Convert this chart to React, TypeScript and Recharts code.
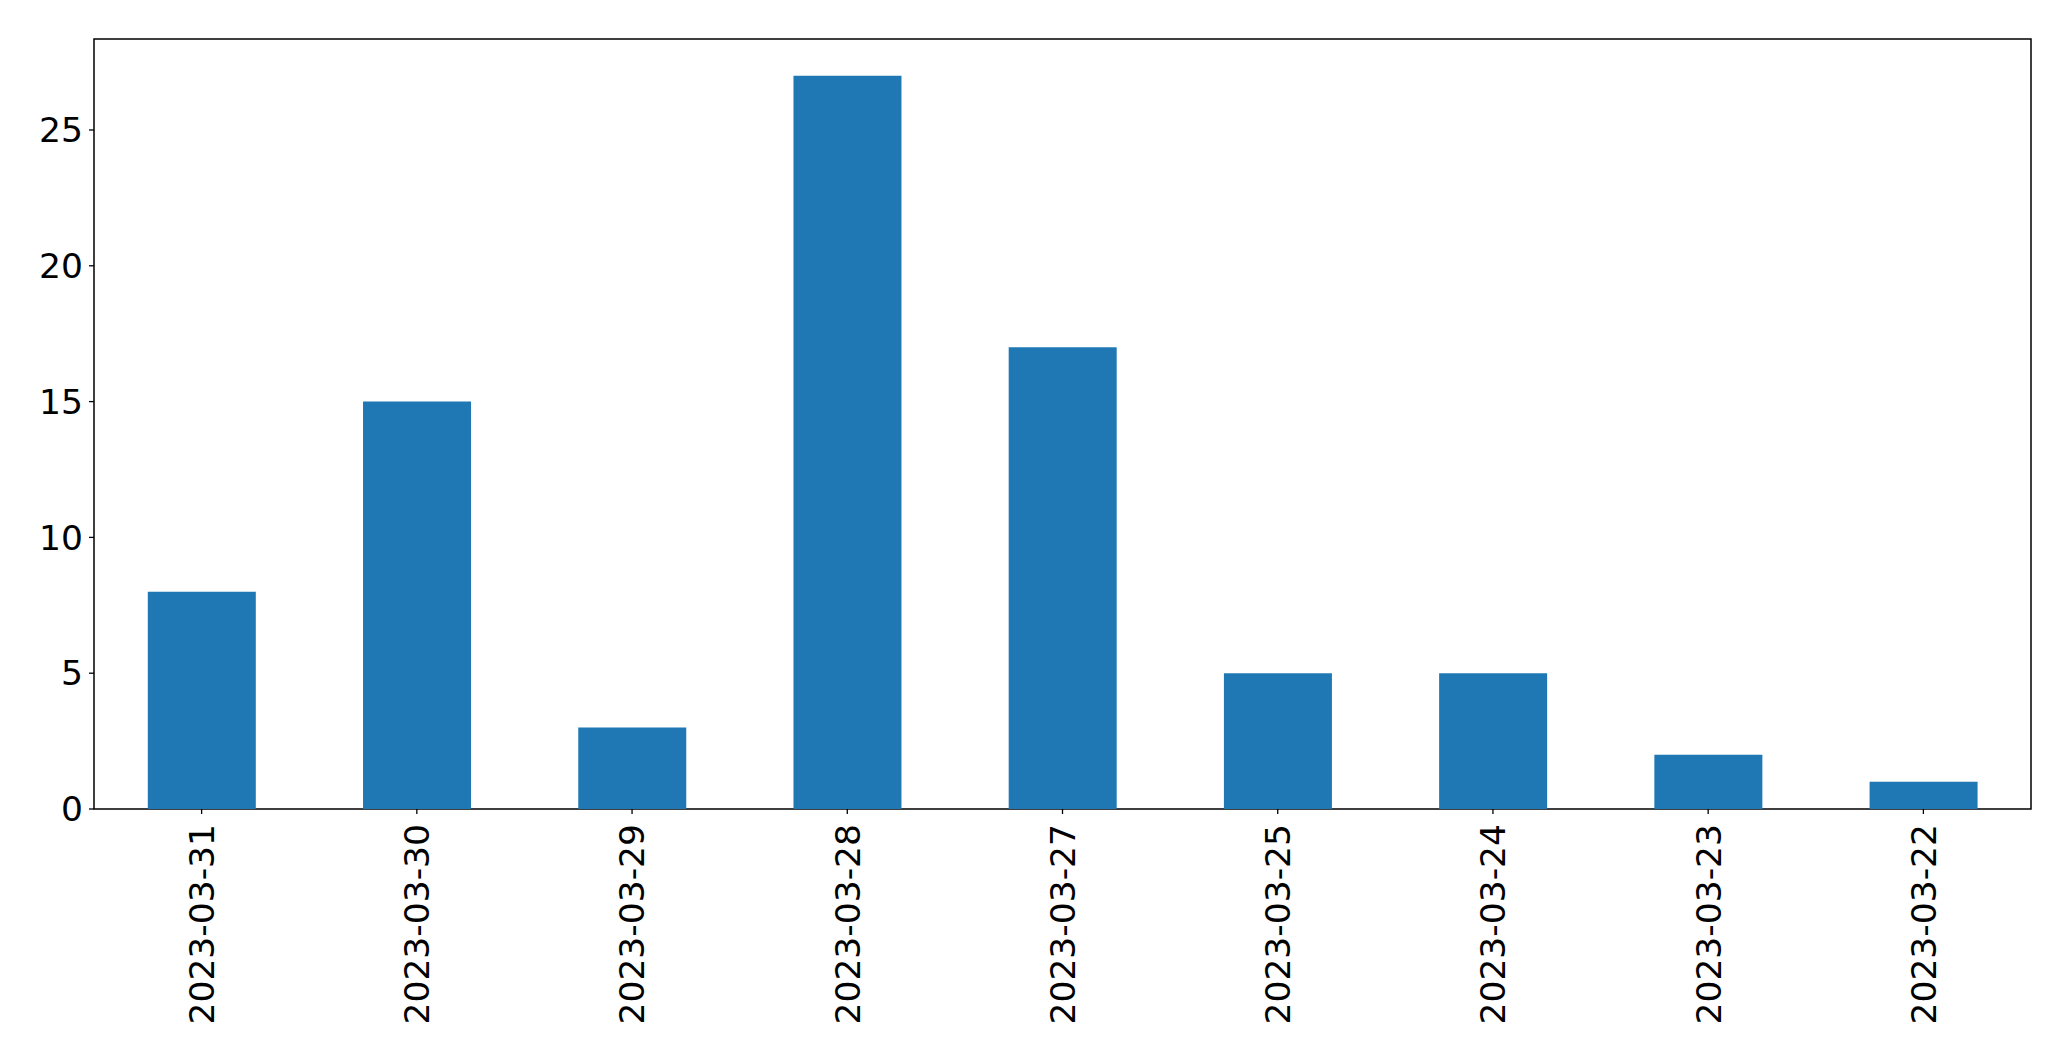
import { BarChart, Bar, XAxis, YAxis, ReferenceArea } from 'recharts';

const dates = [
  '2023-03-31',
  '2023-03-30',
  '2023-03-29',
  '2023-03-28',
  '2023-03-27',
  '2023-03-25',
  '2023-03-24',
  '2023-03-23',
  '2023-03-22',
];
const counts = [8, 15, 3, 27, 17, 5, 5, 2, 1];
const yTicks = [0, 5, 10, 15, 20, 25];
const yMax = 28.35;

const data = dates.map((d, i) => ({ date: d, count: counts[i] }));

const FONT = '"DejaVu Sans", sans-serif';

// rotated date label, reads bottom-to-top like matplotlib rotation=90
const DateTick = (props: any) => {
  const { x, y, payload } = props;
  return (
    <g transform={`translate(${x},${y})`}>
      <text
        transform="rotate(-90)"
        textAnchor="end"
        dy="0.36em"
        fill="#000"
        fontSize={34.5}
        fontFamily={FONT}
      >
        {payload.value}
      </text>
    </g>
  );
};

export default function App() {
  return (
    <div style={{ position: 'absolute', left: 0, top: 0, width: 2071, height: 1061, background: '#fff' }}>
      <BarChart
        width={2071}
        height={1061}
        data={data}
        margin={{ top: 39, right: 40, left: 0, bottom: 0 }}
        barCategoryGap="25%"
      >
        <XAxis
          dataKey="date"
          height={252}
          interval={0}
          tick={<DateTick />}
          tickSize={5}
          tickMargin={10}
          stroke="#000"
          tickLine={{ stroke: '#000', strokeWidth: 1.3 }}
          axisLine={false}
        />
        <YAxis
          width={94}
          domain={[0, yMax]}
          ticks={yTicks}
          tickSize={5}
          tickMargin={6}
          stroke="#000"
          tick={{ fill: '#000', fontSize: 34.5, fontFamily: FONT }}
          tickLine={{ stroke: '#000', strokeWidth: 1.3 }}
          axisLine={false}
        />
        <Bar dataKey="count" fill="#1f77b4" isAnimationActive={false} />
        {/* axes frame, all four spines */}
        <ReferenceArea
          y1={0}
          y2={yMax}
          fill="none"
          stroke="#000"
          strokeOpacity={1}
          strokeWidth={1.5}
          ifOverflow="visible"
        />
      </BarChart>
    </div>
  );
}
